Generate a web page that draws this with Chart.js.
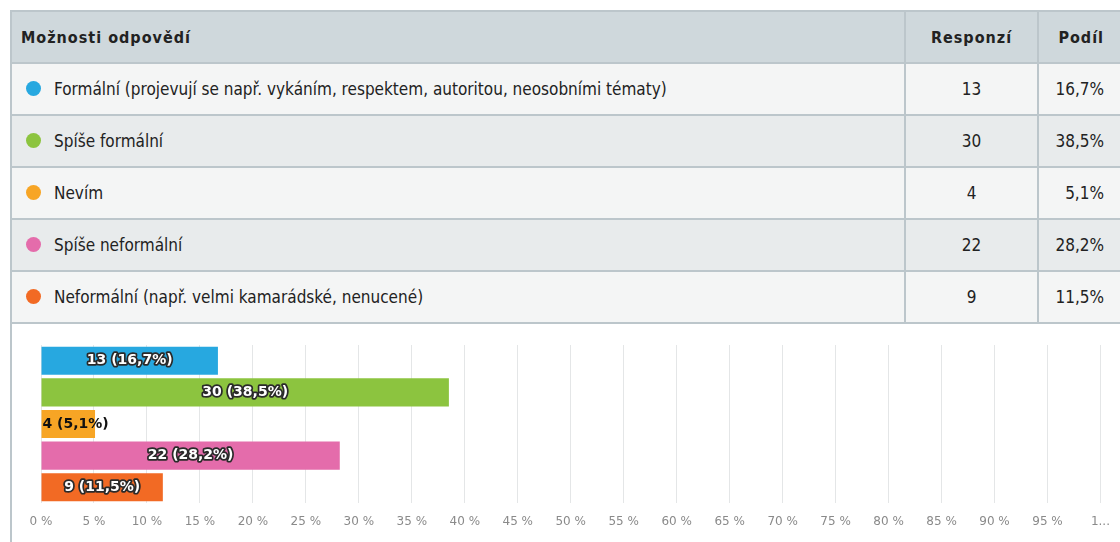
<!DOCTYPE html>
<html>
<meta charset="UTF-8">
<head>
    <title>Možnosti odpovědí</title>
    <script src="https://cdn.jsdelivr.net/npm/chart.js"></script>
    <style>
        html, body { margin: 0; padding: 0; background: #fff; overflow: hidden; width: 1120px; height: 542px; }
        #wrap { position: absolute; left: 10px; top: 10px; width: 1112px; }
        table { border-collapse: collapse; width: 1112px; font-family: "DejaVu Sans Condensed", "DejaVu Sans", sans-serif; font-size: 17px; color: #222; }
        th, td { border: 2px solid #bcc6cb; height: 50px; padding: 0; }
        th { background: #cfd8dc; font-weight: bold; letter-spacing: 1px; font-size: 16px; }
        th.opt { text-align: left; padding-left: 9px; }
        td.opt { padding-left: 42px; position: relative; }
        td.num { text-align: center; }
        td.pct, th.pct { text-align: right; padding-right: 16px; }
        tr.odd td { background: #f4f5f5; }
        tr.even td { background: #e8ebec; }
        .dot { position: absolute; left: 14px; top: 50%; width: 15px; height: 15px; margin-top: -8px; border-radius: 50%; }
        #chartBox { position: absolute; left: 10px; top: 323px; width: 1112px; height: 219px; border-left: 2px solid #bcc6cb; box-sizing: border-box; }
    </style>
</head>
<body>
<div id="wrap">
    <table id="tbl">
        <colgroup><col style="width:894px"><col style="width:133px"><col></colgroup>
        <thead>
        <tr><th class="opt">Možnosti odpovědí</th><th>Responzí</th><th class="pct">Podíl</th></tr>
        </thead>
        <tbody></tbody>
    </table>
</div>
<div id="chartBox">
    <canvas id="chart"></canvas>
</div>

<script>
    // data
    const categories = [
        'Formální (projevují se např. vykáním, respektem, autoritou, neosobními tématy)',
        'Spíše formální',
        'Nevím',
        'Spíše neformální',
        'Neformální (např. velmi kamarádské, nenucené)'
    ];
    const responses = [13, 30, 4, 22, 9];
    const shares = [16.7, 38.5, 5.1, 28.2, 11.5];
    const colors = ['#27a8e0', '#8cc43f', '#f7a525', '#e46cab', '#f26a24'];
    const xTicks = [0, 5, 10, 15, 20, 25, 30, 35, 40, 45, 50, 55, 60, 65, 70, 75, 80, 85, 90, 95, 100];

    const fmt = v => v.toFixed(1).replace('.', ',');

    // tabulka
    const tbody = document.querySelector('#tbl tbody');
    categories.forEach((c, i) => {
        const tr = document.createElement('tr');
        tr.className = i % 2 === 0 ? 'odd' : 'even';
        tr.innerHTML = `<td class="opt"><span class="dot" style="background:${colors[i]}"></span>${c}</td>` +
            `<td class="num">${responses[i]}</td><td class="pct">${fmt(shares[i])}%</td>`;
        tbody.appendChild(tr);
    });

    // popisky v pruzich
    const barLabels = {
        id: 'barLabels',
        afterDatasetsDraw(chart) {
            const ctx = chart.ctx;
            const meta = chart.getDatasetMeta(0);
            ctx.save();
            ctx.font = 'bold 14px "DejaVu Sans", sans-serif';
            ctx.textBaseline = 'middle';
            ctx.lineJoin = 'round';
            meta.data.forEach((bar, i) => {
                const text = responses[i] + ' (' + fmt(shares[i]) + '%)';
                const w = ctx.measureText(text).width;
                const bw = bar.x - bar.base;
                if (w + 6 > bw) {
                    ctx.textAlign = 'left';
                    ctx.fillStyle = '#111';
                    ctx.fillText(text, bar.base + 1, bar.y);
                } else {
                    ctx.textAlign = 'center';
                    const cx = (bar.x + bar.base) / 2;
                    ctx.lineWidth = 3.5;
                    ctx.strokeStyle = '#2a2a2a';
                    ctx.strokeText(text, cx, bar.y);
                    ctx.fillStyle = '#fff';
                    ctx.fillText(text, cx, bar.y);
                }
            });
            ctx.restore();
        }
    };

    const ctx = document.getElementById('chart').getContext('2d');
    new Chart(ctx, {
        type: 'bar',
        data: {
            labels: categories,
            datasets: [{
                data: shares,
                backgroundColor: colors,
                borderWidth: 0,
                barPercentage: 0.89,
                categoryPercentage: 1
            }]
        },
        options: {
            indexAxis: 'y',
            responsive: true,
            maintainAspectRatio: false,
            animation: false,
            layout: { padding: { left: 21, right: 19, top: 22, bottom: 0 } },
            plugins: { legend: { display: false }, tooltip: { enabled: false } },
            scales: {
                x: {
                    min: 0,
                    max: 100,
                    afterBuildTicks: s => { s.ticks = xTicks.map(v => ({ value: v })); },
                    afterFit: s => { s.height = 39; },
                    grid: { color: '#e4e6e7', drawTicks: false },
                    border: { display: false },
                    ticks: {
                        padding: 12,
                        color: '#8a8a8a',
                        font: { family: '"DejaVu Sans", sans-serif', size: 12 },
                        callback: v => v === 100 ? '1...' : v + ' %'
                    }
                },
                y: {
                    grid: { display: false },
                    border: { display: false },
                    ticks: { display: false }
                }
            }
        },
        plugins: [barLabels]
    });
</script>
</body>
</html>
